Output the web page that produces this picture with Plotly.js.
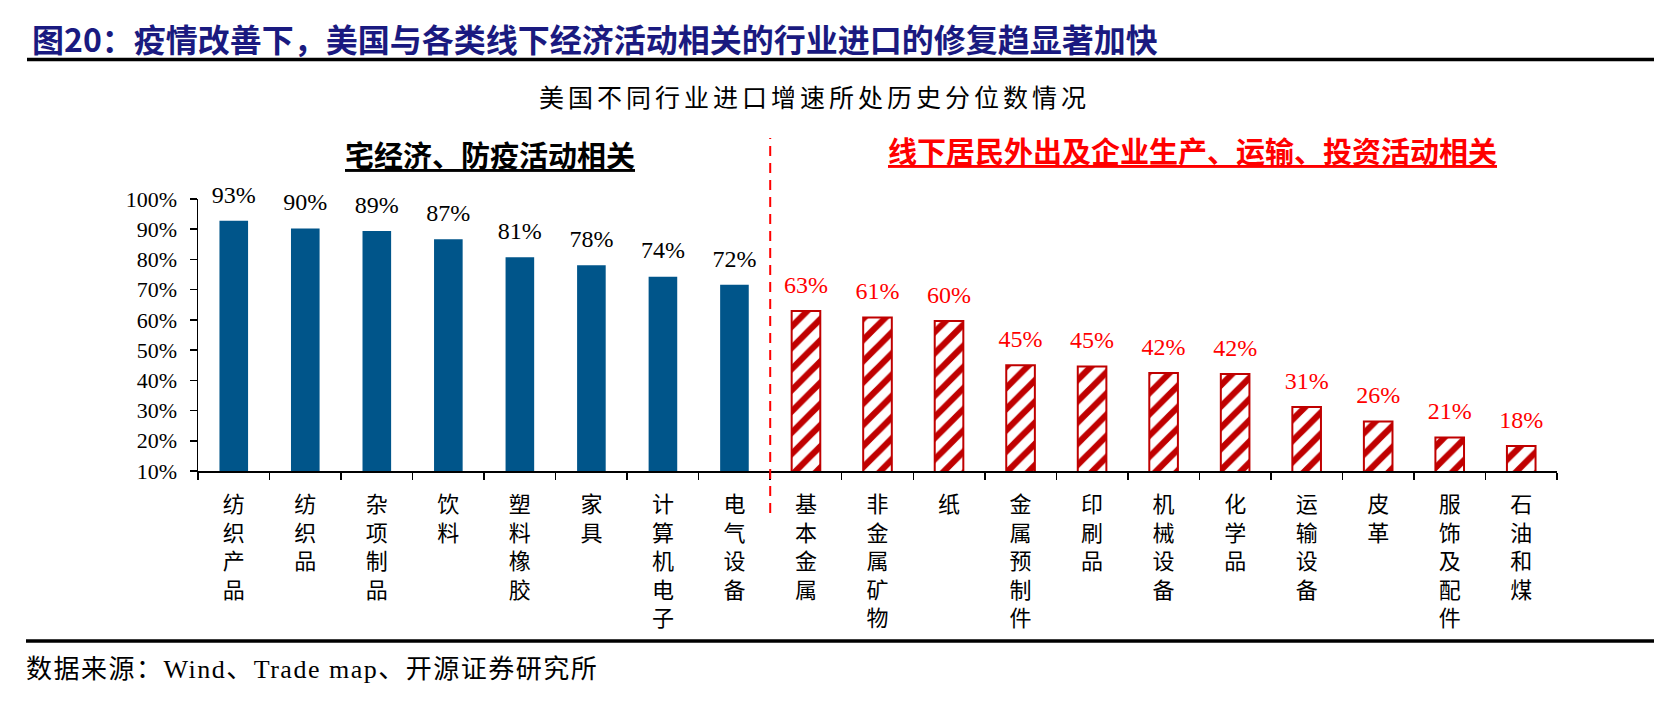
<!DOCTYPE html>
<html>
<head>
<meta charset="utf-8">
<script src="https://cdn.plot.ly/plotly-3.0.1.min.js"></script>
<style>
  html, body { margin: 0; padding: 0; background: #ffffff; }
  #chart { width: 1654px; height: 706px; }
</style>
</head>
<body>
<div id="chart"></div>
<script>
// ---- data ----
const homeCategories = ["纺织产品", "纺织品", "杂项制品", "饮料", "塑料橡胶", "家具", "计算机电子", "电气设备"];
const homeValues = [92.8, 90.2, 89.4, 86.7, 80.7, 78.1, 74.3, 71.6];

const offlineCategories = ["基本金属", "非金属矿物", "纸", "金属预制件", "印刷品", "机械设备", "化学品", "运输设备", "皮革", "服饰及配件", "石油和煤"];
const offlineValues = [62.9, 60.8, 59.6, 45.0, 44.6, 42.4, 42.1, 31.2, 26.4, 21.1, 18.3];

const yTickValues = [10, 20, 30, 40, 50, 60, 70, 80, 90, 100];
const yTickLabels = ["10%", "20%", "30%", "40%", "50%", "60%", "70%", "80%", "90%", "100%"];

const chartTitle = "图20：疫情改善下，美国与各类线下经济活动相关的行业进口的修复趋显著加快";
const chartSubtitle = "美国不同行业进口增速所处历史分位数情况";
const leftGroupTitle = "宅经济、防疫活动相关";
const rightGroupTitle = "线下居民外出及企业生产、运输、投资活动相关";
const sourceNote = "数据来源：Wind、Trade map、开源证券研究所";

// ---- helpers ----
const vertical = s => s.split("").join("<br>");
const homeX = homeCategories.map(vertical);
const offlineX = offlineCategories.map(vertical);
const allX = homeX.concat(offlineX);
const pct = v => Math.round(v) + "%";

const BLUE = "#00558A";
const DARKRED = "#C00000";
const RED = "#FF0000";
const SERIF = "Liberation Serif, Noto Sans CJK SC, serif";
const CJK = "Noto Sans CJK SC, sans-serif";

// plot area geometry (px) used for placing page furniture in paper coords
const L = 198, R = 1557, T = 199, B = 471;
const W = R - L, H = B - T;
const px = X => (X - L) / W;
const py = Y => (B - Y) / H;

const traces = [
  {
    type: "bar", x: homeX, y: homeValues,
    marker: { color: BLUE, line: { width: 0 } },
    hoverinfo: "skip", showlegend: false
  },
  {
    type: "bar", x: offlineX, y: offlineValues,
    marker: {
      color: "#ffffff",
      line: { color: DARKRED, width: 2 },
      pattern: { shape: "/", fgcolor: DARKRED, bgcolor: "#ffffff", fgopacity: 1,
                 size: 15, solidity: 0.42, fillmode: "replace" }
    },
    hoverinfo: "skip", showlegend: false
  },
  {
    type: "scatter", mode: "markers+text", x: homeX, y: homeValues,
    text: homeValues.map(pct), textposition: "top center",
    textfont: { family: SERIF, size: 24, color: "#000000" },
    marker: { size: 18, color: "rgba(0,0,0,0)" },
    cliponaxis: false, hoverinfo: "skip", showlegend: false
  },
  {
    type: "scatter", mode: "markers+text", x: offlineX, y: offlineValues,
    text: offlineValues.map(pct), textposition: "top center",
    textfont: { family: SERIF, size: 24, color: RED },
    marker: { size: 18, color: "rgba(0,0,0,0)" },
    cliponaxis: false, hoverinfo: "skip", showlegend: false
  }
];

const layout = {
  width: 1654, height: 706,
  margin: { l: L, r: 1654 - R, t: T, b: 706 - B, pad: 0 },
  paper_bgcolor: "#ffffff", plot_bgcolor: "#ffffff",
  barmode: "overlay", bargap: 0.6,
  showlegend: false,
  xaxis: {
    type: "category", categoryorder: "array", categoryarray: allX,
    range: [-0.5, allX.length - 0.5], autorange: false,
    tickson: "boundaries", ticks: "outside", ticklen: 7, tickwidth: 1.5, tickcolor: "#000000",
    showline: true, linecolor: "#000000", linewidth: 1.5,
    showgrid: false, zeroline: false,
    tickfont: { family: SERIF, size: 22, color: "#000000" },
    tickangle: 0, ticklabelstandoff: 13, fixedrange: true
  },
  yaxis: {
    range: [10, 100], autorange: false, tickmode: "array", tickvals: yTickValues, ticktext: yTickLabels,
    ticks: "outside", ticklen: 7, tickwidth: 1.5, tickcolor: "#000000",
    showline: true, linecolor: "#000000", linewidth: 1.5,
    showgrid: false, zeroline: false,
    tickfont: { family: SERIF, size: 22, color: "#000000" },
    ticklabelstandoff: 8, fixedrange: true
  },
  shapes: [
    { type: "line", xref: "paper", yref: "paper", x0: px(27), x1: px(1654), y0: py(59.5), y1: py(59.5),
      line: { color: "#000000", width: 3.5 } },
    { type: "line", xref: "paper", yref: "paper", x0: px(26), x1: px(1654), y0: py(641), y1: py(641),
      line: { color: "#000000", width: 3.5 } },
    { type: "line", xref: "x", yref: "paper", x0: homeX.length - 0.5, x1: homeX.length - 0.5,
      y0: py(513), y1: py(138), line: { color: RED, width: 2, dash: "10px,7px" } }
  ],
  annotations: [
    { text: "<b>" + chartTitle + "</b>", xref: "paper", yref: "paper", x: px(30), y: py(38),
      xanchor: "left", yanchor: "middle", showarrow: false,
      font: { family: CJK, size: 32, color: "#1A1A80" } },
    { text: '<span style="letter-spacing:4px">' + chartSubtitle + '</span>', xref: "paper", yref: "paper",
      x: px(814), y: py(96), xanchor: "center", yanchor: "middle", showarrow: false,
      font: { family: CJK, size: 25, color: "#000000" } },
    { text: "<b><u>" + leftGroupTitle + "</u></b>", xref: "paper", yref: "paper",
      x: px(490), y: py(154), xanchor: "center", yanchor: "middle", showarrow: false,
      font: { family: CJK, size: 29, color: "#000000" } },
    { text: "<b><u>" + rightGroupTitle + "</u></b>", xref: "paper", yref: "paper",
      x: px(1192), y: py(150), xanchor: "center", yanchor: "middle", showarrow: false,
      font: { family: CJK, size: 29, color: RED } },
    { text: '<span style="letter-spacing:1.5px">' + sourceNote + '</span>', xref: "paper", yref: "paper",
      x: px(24), y: py(669), xanchor: "left", yanchor: "middle", showarrow: false,
      font: { family: SERIF, size: 26, color: "#000000" } }
  ]
};

Plotly.newPlot("chart", traces, layout, { staticPlot: true, displayModeBar: false });
</script>
</body>
</html>
